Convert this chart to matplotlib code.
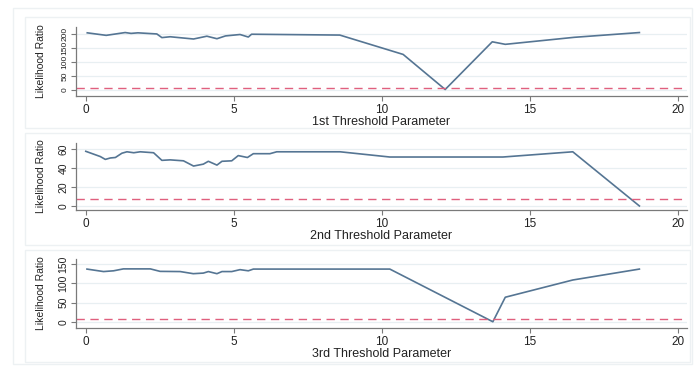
import matplotlib.pyplot as plt
from matplotlib.patches import Rectangle

# 1st threshold
x1 = [0.05, 0.69, 1.33, 1.53, 1.76, 2.4, 2.57, 2.85, 3.64, 4.09, 4.43, 4.72,
      5.21, 5.49, 5.6, 8.58, 10.72, 12.14, 13.73, 14.17, 16.5, 18.7]
y1 = [204, 195, 205, 202, 204, 200, 187, 190, 182, 192, 183, 193,
      198, 189, 199, 196, 127, 2, 172, 163, 188, 205]

# 2nd threshold
x2 = [0.0, 0.49, 0.66, 0.83, 1.0, 1.22, 1.39, 1.62, 1.84, 2.29, 2.57, 2.85,
      3.3, 3.64, 3.97, 4.14, 4.43, 4.6, 4.93, 5.15, 5.46, 5.66, 6.22, 6.45,
      8.59, 10.27, 14.09, 16.45, 18.7]
y2 = [57.5, 52, 49, 50.5, 51, 55.5, 57, 56, 57, 56, 48, 48.5,
      47.5, 42, 44, 47, 43, 47, 47.5, 53, 51, 55, 55, 57,
      57, 51.5, 51.5, 57, 0]

# 3rd threshold
x3 = [0.04, 0.6, 0.94, 1.27, 2.18, 2.51, 3.19, 3.63, 3.97, 4.14, 4.43, 4.6,
      4.93, 5.21, 5.49, 5.66, 10.27, 13.75, 14.17, 16.45, 18.7]
y3 = [137.5, 131, 133, 138, 138, 131.5, 131, 125.5, 127, 131, 125.5, 131,
      131, 136, 133, 137.5, 137.5, 0, 64, 109, 137.5]

crit = 7.0
xlabels = ["1st Threshold Parameter", "2nd Threshold Parameter", "3rd Threshold Parameter"]
yticks = [[0, 50, 100, 150, 200], [0, 20, 40, 60], [0, 50, 100, 150]]
ylims = [(-21, 225), (-4.2, 66.3), (-16.4, 163.7)]
ytick_size = [6.0, 7.5, 7.5]

plt.rcParams["font.family"] = ["Liberation Sans", "DejaVu Sans"]

LINE = "#557593"
DASH = "#e0607e"
GRID = "#e8eff2"
SPINE = "#7a7a7a"

fig = plt.figure(figsize=(6.98, 3.69), dpi=100)

# faint panel frames
W, H = 698, 369
def frame(x0, y0, x1_, y1_):
    fig.patches.append(Rectangle((x0 / W, 1 - y1_ / H), (x1_ - x0) / W, (y1_ - y0) / H,
                                 transform=fig.transFigure, fill=False,
                                 edgecolor="#edf1f3", linewidth=1.0))
frame(13, 8, 692, 364)
frame(25, 17, 690, 128)
frame(25, 133, 690, 245)
frame(25, 250, 690, 362)

axes_pos = [(0.1089, 0.740, 0.875, 0.187),
            (0.1089, 0.431, 0.875, 0.1816),
            (0.1089, 0.111, 0.875, 0.187)]

for i, (xs, ys) in enumerate([(x1, y1), (x2, y2), (x3, y3)]):
    ax = fig.add_axes(axes_pos[i])
    ax.plot(xs, ys, color=LINE, linewidth=1.2)
    ax.axhline(crit, color=DASH, linestyle=(0, (6, 4)), linewidth=1.0)
    ax.set_xlim(-0.33, 20.3)
    ax.set_ylim(*ylims[i])
    ax.set_xticks([0, 5, 10, 15, 20])
    ax.set_yticks(yticks[i])
    ax.set_yticklabels([str(t) for t in yticks[i]], rotation=90, va="center",
                       fontsize=ytick_size[i])
    ax.grid(axis="y", color=GRID, linewidth=0.9)
    ax.set_axisbelow(True)
    for s in ["top", "right"]:
        ax.spines[s].set_visible(False)
    for s in ["left", "bottom"]:
        ax.spines[s].set_color(SPINE)
        ax.spines[s].set_linewidth(0.9)
    ax.tick_params(axis="both", colors=SPINE, labelcolor="#222222",
                   length=3.5, width=0.8, pad=2)
    ax.tick_params(axis="x", labelsize=8.5)
    ax.set_xlabel(xlabels[i], fontsize=9, color="#222222", labelpad=0)
    ax.set_ylabel("Likelihood Ratio", fontsize=7.5, color="#222222")
    ax.yaxis.set_label_coords(-0.049, 0.5)

fig.savefig("out.png", dpi=100, facecolor="white")
